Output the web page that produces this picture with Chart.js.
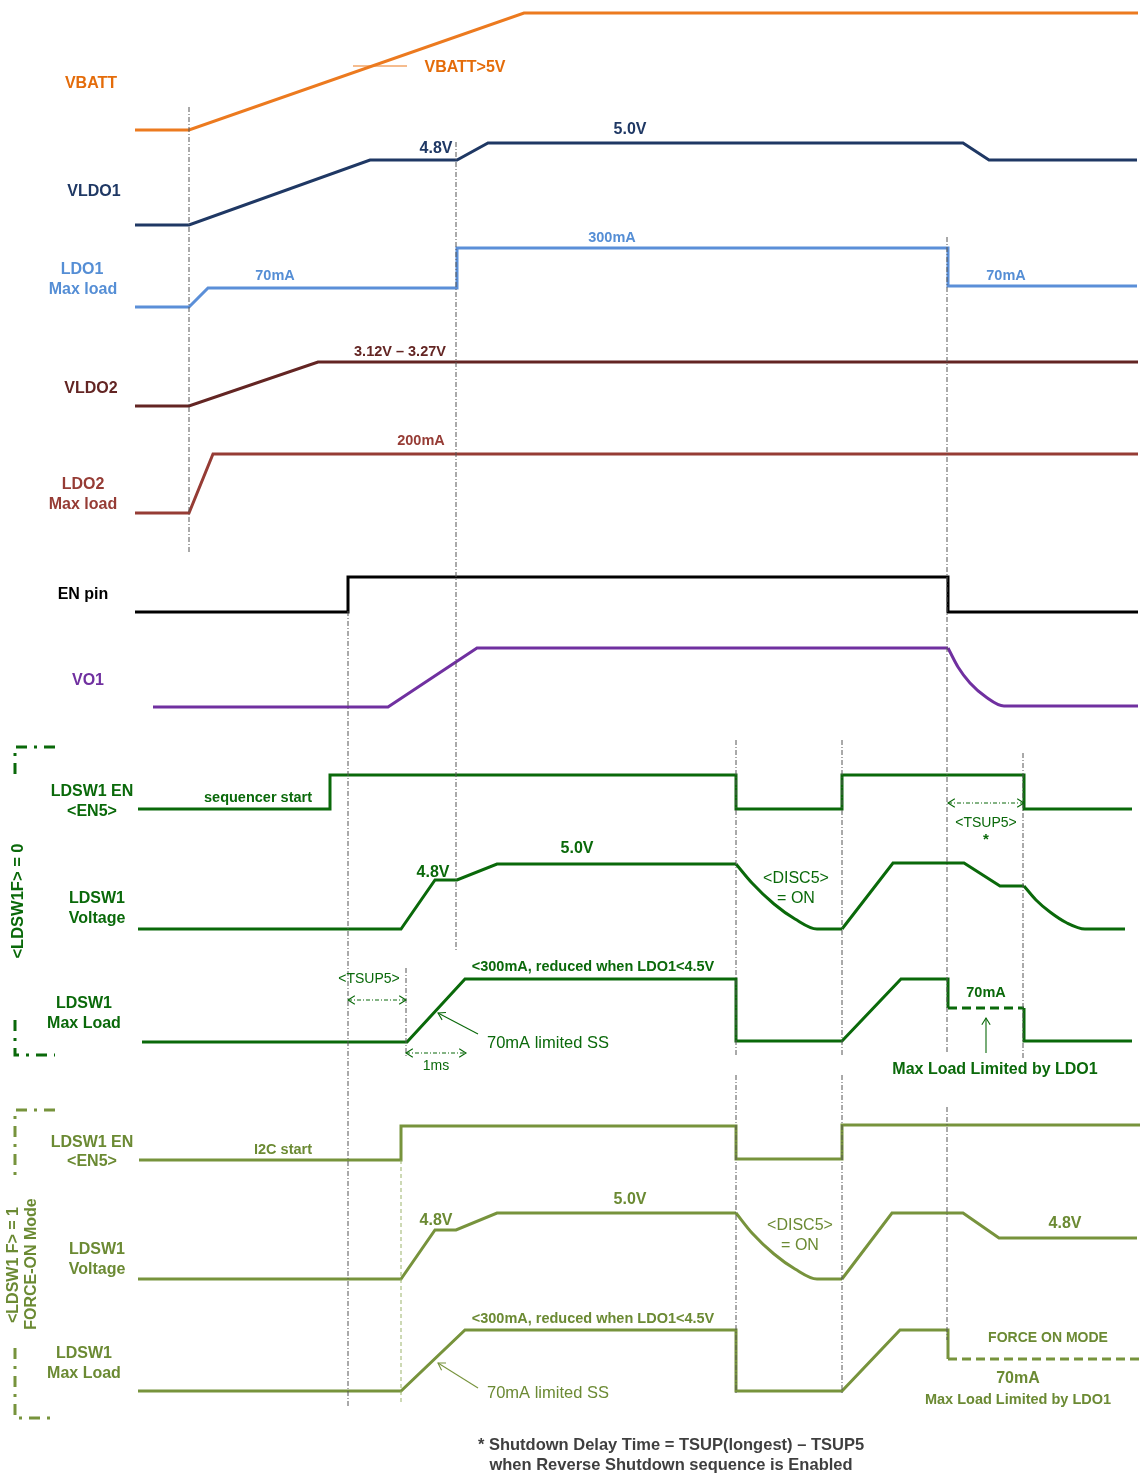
<!DOCTYPE html>
<html><head><meta charset="utf-8">
<script src="https://cdn.jsdelivr.net/npm/chart.js@4.4.1/dist/chart.umd.min.js"></script>
<style>html,body{margin:0;padding:0;background:#fff}#wrap{width:1140px;height:1473px}</style>
</head><body><div id="wrap"><canvas id="c" width="1140" height="1473" style="width:1140px;height:1473px"></canvas></div>
<script>
// ---- waveform data: time (x) and level (y, diagram units, top = 0) ----
const vbattT=[135,189,524,1138], vbattV=[130,130,13,13];
const vbattMarkT=[353,407], vbattMarkV=[66,66];
const vldo1T=[135,189,370,457,488,963,989,1137], vldo1V=[225,225,160,160,143,143,160,160];
const ldo1T=[135,189,208,457,457,948,948,1137], ldo1V=[307,307,288,288,248,248,286,286];
const vldo2T=[135,189,318,1138], vldo2V=[406,406,362,362];
const ldo2T=[135,189,213,1138], ldo2V=[513,513,454,454];
const enT=[135,348,348,948,948,1138], enV=[612,612,577,577,612,612];
const vo1T=[153,388,477,948], vo1V=[707,707,648,648];
const vo1DecayT=[948,958,970,986,1004,1138], vo1DecayV=[648,667,683,697,706,706];

// section 1 (<LDSW1F> = 0)
const s1EnT=[138,330,330,736,736,842,842,1024,1024,1132], s1EnV=[809,809,775,775,809,809,775,775,809,809];
const s1VoltT=[138,401,435,457,497,736], s1VoltV=[929,929,880,880,864,864];
const s1DiscT=[736,752,774,795,817,842], s1DiscV=[864,883,904,919,929,929];
const s1Volt2T=[842,893,964,1000,1024], s1Volt2V=[929,863,863,886,886];
const s1Disc2T=[1024,1036,1050,1067,1085,1125], s1Disc2V=[886,900,912,923,929,929];
const s1LoadT=[142,407,465,736,736,842,901,948,948], s1LoadV=[1042,1042,979,979,1041,1041,979,979,1008];
const s1LoadDashT=[948,1024], s1LoadDashV=[1008,1008];
const s1LoadEndT=[1024,1024,1132], s1LoadEndV=[1008,1041,1041];

// section 2 (<LDSW1 F> = 1, FORCE-ON)
const s2EnT=[139,401,401,736,736,842,842,1140], s2EnV=[1160,1160,1126,1126,1159,1159,1125,1125];
const s2VoltT=[138,401,435,456,497,736], s2VoltV=[1279,1279,1230,1230,1213,1213];
const s2DiscT=[736,752,774,795,817,842], s2DiscV=[1213,1233,1254,1269,1279,1279];
const s2Volt2T=[842,892,963,999,1137], s2Volt2V=[1279,1213,1213,1238,1238];
const s2LoadT=[138,401,465,736,736,842,900,948,948], s2LoadV=[1391,1391,1330,1330,1391,1391,1330,1330,1359];
const s2LoadDashT=[948,1140], s2LoadDashV=[1359,1359];

// timing guide lines
const guideX=[189,456,348,947,947,736,736,842,842,1023,406];
const guideTop=[107,142,611,237,1107,740,1075,740,1075,753,968];
const guideBot=[552,950,1407,1053,1340,1055,1395,1055,1395,1060,1057];
const guide2X=[401], guide2Top=[1160], guide2Bot=[1405];

// brackets
const br1aT=[55,15,15], br1aV=[747,747,780];
const br1bT=[15,15,55], br1bV=[1020,1055,1055];
const br2aT=[55,15,15], br2aV=[1110,1110,1177];
const br2bT=[15,15,55], br2bV=[1348,1418,1418];

// colours
const C_VB='#EC7A1F', C_VBT='#E46C0A', C_L1='#1F3864', C_LD1='#5B8FD8', C_LD1T='#558ED5',
      C_L2='#632523', C_LD2='#963C35', C_VO='#7030A0', G1='#0A690A', G2='#77933C', G2T='#6B8A33', GRAY='#555';

const pts=(xs,ys)=>xs.map((x,i)=>({x,y:ys[i]}));
const datasets=[];
function line(xs,ys,color,opts={}){
  datasets.push(Object.assign({data:pts(xs,ys),borderColor:color,borderWidth:3,showLine:true,pointRadius:0,
    fill:false,tension:0,borderCapStyle:'butt',borderJoinStyle:'miter'},opts));
}
const mono={cubicInterpolationMode:'monotone'};
const dd=[5,2,1,2];
guideX.forEach((x,i)=>line([x,x],[guideTop[i],guideBot[i]],GRAY,{borderWidth:1,borderDash:dd}));
guide2X.forEach((x,i)=>line([x,x],[guide2Top[i],guide2Bot[i]],'#9BB36A',{borderWidth:1,borderDash:[4,3]}));

line(vbattT,vbattV,C_VB);
line(vbattMarkT,vbattMarkV,C_VB,{borderWidth:1.2});
line(vldo1T,vldo1V,C_L1);
line(ldo1T,ldo1V,C_LD1);
line(vldo2T,vldo2V,C_L2);
line(ldo2T,ldo2V,C_LD2);
line(enT,enV,'#000');
line(vo1T,vo1V,C_VO);
line(vo1DecayT,vo1DecayV,C_VO,mono);

line(s1EnT,s1EnV,G1);
line(s1VoltT,s1VoltV,G1);
line(s1DiscT,s1DiscV,G1,mono);
line(s1Volt2T,s1Volt2V,G1);
line(s1Disc2T,s1Disc2V,G1,mono);
line(s1LoadT,s1LoadV,G1);
line(s1LoadDashT,s1LoadDashV,G1,{borderDash:[9,5]});
line(s1LoadEndT,s1LoadEndV,G1);

line(s2EnT,s2EnV,G2);
line(s2VoltT,s2VoltV,G2);
line(s2DiscT,s2DiscV,G2,mono);
line(s2Volt2T,s2Volt2V,G2);
line(s2LoadT,s2LoadV,G2);
line(s2LoadDashT,s2LoadDashV,G2,{borderDash:[9,5]});

const bd=[11,7,3,7];
line(br1aT,br1aV,G1,{borderDash:bd});
line(br1bT,br1bV,G1,{borderDash:bd});
line(br2aT,br2aV,G2,{borderDash:bd});
line(br2bT,br2bV,G2,{borderDash:bd});

// text annotations: [text, x, y, colour, size, bold, align, rotate]
const labels=[
 ['VBATT',91,82,C_VBT,16,1],['VBATT>5V',465,66,C_VBT,16,1],
 ['VLDO1',94,190,C_L1,16,1],['4.8V',436,147,C_L1,16,1],['5.0V',630,128,C_L1,16,1],
 ['LDO1',82,268,C_LD1T,16,1],['Max load',83,288,C_LD1T,16,1],['70mA',275,274,C_LD1T,14.5,1],['300mA',612,236,C_LD1T,14.5,1],['70mA',1006,274,C_LD1T,14.5,1],
 ['VLDO2',91,387,C_L2,16,1],['3.12V – 3.27V',400,350,C_L2,14.5,1],
 ['LDO2',83,483,C_LD2,16,1],['Max load',83,503,C_LD2,16,1],['200mA',421,439,C_LD2,14.5,1],
 ['EN pin',83,593,'#000',16,1],
 ['VO1',88,679,C_VO,16,1],
 ['LDSW1 EN',92,790,G1,16,1],['<EN5>',92,810,G1,16,1],['sequencer start',258,796,G1,14.5,1],
 ['<TSUP5>',986,821,G1,14,0],['*',986,838,G1,15,1],
 ['LDSW1',97,897,G1,16,1],['Voltage',97,917,G1,16,1],['4.8V',433,871,G1,16,1],['5.0V',577,847,G1,16,1],
 ['<DISC5>',796,877,G1,16,0],['= ON',796,897,G1,16,0],
 ['LDSW1',84,1002,G1,16,1],['Max Load',84,1022,G1,16,1],
 ['<300mA, reduced when LDO1<4.5V',593,965,G1,14.5,1],['<TSUP5>',369,977,G1,14,0],['70mA limited SS',487,1041,G1,16.5,0,'left'],
 ['1ms',436,1064,G1,14,0],['70mA',986,991,G1,14.5,1],['Max Load Limited by LDO1',995,1068,G1,16,1],
 ['<LDSW1F> = 0',18,901,G1,16.5,1,'center',1],
 ['LDSW1 EN',92,1141,G2T,16,1],['<EN5>',92,1160,G2T,16,1],['I2C start',283,1148,G2T,14.5,1],
 ['LDSW1',97,1248,G2T,16,1],['Voltage',97,1268,G2T,16,1],['4.8V',436,1219,G2T,16,1],['5.0V',630,1198,G2T,16,1],
 ['<DISC5>',800,1224,G2T,16,0],['= ON',800,1244,G2T,16,0],['4.8V',1065,1222,G2T,16,1],
 ['LDSW1',84,1352,G2T,16,1],['Max Load',84,1372,G2T,16,1],
 ['<300mA, reduced when LDO1<4.5V',593,1317,G2T,14.5,1],['70mA limited SS',487,1391,G2T,16.5,0,'left'],
 ['FORCE ON MODE',1048,1336,G2T,14,1],['70mA',1018,1377,G2T,16,1],['Max Load Limited by LDO1',1018,1398,G2T,14.5,1],
 ['<LDSW1 F> = 1',14,1265,G2T,16,1,'center',1],['FORCE-ON Mode',32,1264,G2T,16,1,'center',1],
 ['* Shutdown Delay Time = TSUP(longest) – TSUP5',671,1443,'#3F3F3F',16.5,1],
 ['when Reverse Shutdown sequence is Enabled',671,1463,'#3F3F3F',16.5,1]
];
// arrows: [x1,y1,x2,y2, heads(1=end,2=both), colour, dashed]
const arrows=[
 [348,1000,406,1000,2,G1,1],[406,1053,466,1053,2,G1,1],[948,803,1024,803,2,G1,1],
 [478,1034,438,1013,1,G1,0],[986,1053,986,1018,1,G1,0],[478,1388,438,1363,1,G2,0]
];

const annot={id:'annot',afterDatasetsDraw(chart){
  const ctx=chart.ctx, sx=chart.scales.x, sy=chart.scales.y;
  ctx.save();
  arrows.forEach(a=>{
    const x1=sx.getPixelForValue(a[0]),y1=sy.getPixelForValue(a[1]),x2=sx.getPixelForValue(a[2]),y2=sy.getPixelForValue(a[3]);
    ctx.strokeStyle=a[5];ctx.lineWidth=1.1;
    ctx.setLineDash(a[6]?[4,2,1,2]:[]);
    ctx.beginPath();ctx.moveTo(x1,y1);ctx.lineTo(x2,y2);ctx.stroke();
    ctx.setLineDash([]);
    const head=(xa,ya,xb,yb)=>{const ang=Math.atan2(yb-ya,xb-xa),L=8,s=0.55;
      ctx.beginPath();ctx.moveTo(xb-L*Math.cos(ang-s),yb-L*Math.sin(ang-s));ctx.lineTo(xb,yb);
      ctx.lineTo(xb-L*Math.cos(ang+s),yb-L*Math.sin(ang+s));ctx.stroke();};
    head(x1,y1,x2,y2); if(a[4]===2) head(x2,y2,x1,y1);
  });
  labels.forEach(l=>{
    const x=sx.getPixelForValue(l[1]),y=sy.getPixelForValue(l[2]);
    ctx.fillStyle=l[3];
    ctx.font=(l[5]?'bold ':'')+l[4]+'px "Liberation Sans", Arial, sans-serif';
    ctx.textAlign=l[6]||'center';ctx.textBaseline='middle';
    if(l[7]){ctx.save();ctx.translate(x,y);ctx.rotate(-Math.PI/2);ctx.fillText(l[0],0,0);ctx.restore();}
    else ctx.fillText(l[0],x,y+2);
  });
  ctx.restore();
}};

new Chart(document.getElementById('c'),{
  type:'scatter',
  data:{datasets},
  options:{responsive:false,animation:false,events:[],
    layout:{padding:0},
    plugins:{legend:{display:false},tooltip:{enabled:false}},
    scales:{x:{type:'linear',min:0,max:1140,display:false},
            y:{type:'linear',min:0,max:1473,reverse:true,display:false}}},
  plugins:[annot]
});
</script></body></html>
